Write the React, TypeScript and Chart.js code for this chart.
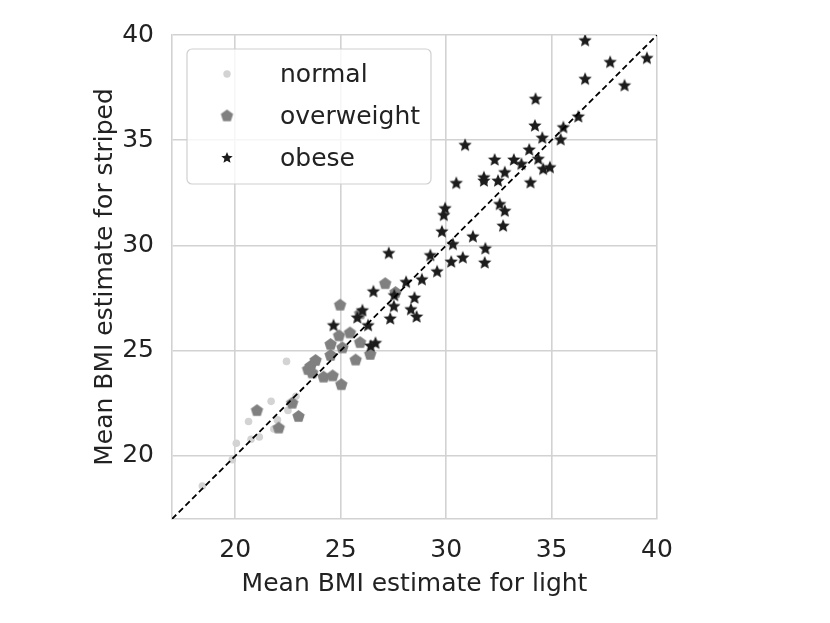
import { useEffect, useRef } from "react"
import { Chart, registerables } from "chart.js"

Chart.register(...registerables)

const normalX = [22.43, 21.7, 20.63, 20.05, 20.75, 21.14, 21.83, 22.0, 22.5, 22.88, 19.86, 18.44]
const normalY = [24.49, 22.59, 21.63, 20.6, 20.79, 20.9, 21.28, 21.71, 22.16, 22.83, 19.82, 18.57]

const overweightX = [
  21.03, 22.06, 23.0, 22.7, 23.45, 23.57, 23.81, 23.65, 24.19, 24.62, 25.03, 24.52,
  24.52, 25.08, 24.92, 25.44, 24.97, 25.92, 25.71, 26.4, 25.92, 27.11, 27.6,
]
const overweightY = [
  22.15, 21.32, 21.87, 22.5, 24.1, 24.25, 24.53, 23.94, 23.74, 23.8, 23.38, 25.29,
  24.77, 25.13, 25.7, 25.84, 27.16, 25.38, 24.55, 24.82, 26.75, 28.18, 27.76,
]

const obeseX = [
  27.28, 28.1, 28.85, 26.55, 24.66, 26.03, 25.79, 26.3, 26.65, 26.42, 27.52, 27.35,
  27.54, 28.5, 28.33, 28.6, 29.25, 29.57, 29.8, 29.89, 29.95, 30.24, 30.32, 30.48,
  30.79, 30.9, 31.27, 31.79, 31.79, 31.83, 31.86, 32.3, 32.46, 32.54, 32.7, 32.78,
  32.78, 33.21, 33.57, 33.94, 34.0, 34.21, 34.24, 34.37, 34.56, 34.6, 34.92, 35.43,
  35.56, 36.27, 36.59, 36.59, 37.78, 38.46, 39.52,
]
const obeseY = [
  29.62, 28.25, 28.37, 27.8, 26.19, 26.9, 26.56, 26.19, 25.35, 25.22, 27.1, 26.51,
  27.62, 27.5, 26.95, 26.6, 29.52, 28.75, 30.65, 31.43, 31.75, 29.21, 30.05, 32.95,
  29.41, 34.76, 30.41, 33.22, 33.06, 29.17, 29.84, 34.06, 33.06, 31.95, 30.92, 31.63,
  33.46, 34.06, 33.86, 34.54, 32.98, 35.68, 36.95, 34.1, 35.1, 33.62, 33.7, 35.02,
  35.6, 36.11, 37.9, 39.73, 38.7, 37.59, 38.89,
]

const identityLine = [17, 40]
const axisMin = 17
const axisMax = 40
const xTicks = [20, 25, 30, 35, 40]
const yTicks = [20, 25, 30, 35, 40]

const FONT = "'DejaVu Sans', Verdana, sans-serif"
const TEXT = "#222222"
const GRID = "#d2d2d2"

function toPoints(xs: number[], ys: number[]) {
  return xs.map((x, i) => ({ x, y: ys[i] }))
}

// small offscreen canvases used as point styles
function makeMarker(kind: "pentagon" | "star", color: string, r: number) {
  const size = Math.ceil(r * 2 + 4)
  const c = document.createElement("canvas")
  c.width = size
  c.height = size
  const ctx = c.getContext("2d")!
  const cx = size / 2
  const cy = size / 2
  ctx.fillStyle = color
  ctx.beginPath()
  if (kind === "pentagon") {
    for (let i = 0; i < 5; i++) {
      const a = -Math.PI / 2 + (i * 2 * Math.PI) / 5
      const px = cx + r * Math.cos(a)
      const py = cy + r * Math.sin(a)
      if (i === 0) ctx.moveTo(px, py)
      else ctx.lineTo(px, py)
    }
  } else {
    const inner = r * 0.45
    for (let i = 0; i < 10; i++) {
      const a = -Math.PI / 2 + (i * Math.PI) / 5
      const rr = i % 2 === 0 ? r : inner
      const px = cx + rr * Math.cos(a)
      const py = cy + rr * Math.sin(a)
      if (i === 0) ctx.moveTo(px, py)
      else ctx.lineTo(px, py)
    }
  }
  ctx.closePath()
  ctx.fill()
  return c
}

export default function App() {
  const chartRef = useRef<HTMLCanvasElement | null>(null)
  const chartInstance = useRef<Chart | null>(null)

  useEffect(() => {
    if (!chartRef.current) return
    if (chartInstance.current) chartInstance.current.destroy()

    const pentagon = makeMarker("pentagon", "#808080", 6.5)
    const star = makeMarker("star", "#1c1c1c", 7)
    const smallStar = makeMarker("star", "#1c1c1c", 6)

    const legendItems = [
      { label: "normal", style: "circle", color: "#d3d3d3" },
      { label: "overweight", style: pentagon, color: "#808080" },
      { label: "obese", style: smallStar, color: "#1c1c1c" },
    ]

    // legend box drawn inside the plot, matplotlib style
    const insideLegend = {
      id: "insideLegend",
      afterDatasetsDraw(chart: Chart) {
        const ctx = chart.ctx
        const bx = 187
        const by = 49
        const bw = 244
        const bh = 135
        ctx.save()
        ctx.beginPath()
        ctx.roundRect(bx, by, bw, bh, 5)
        ctx.fillStyle = "rgba(255,255,255,0.8)"
        ctx.fill()
        ctx.lineWidth = 1.2
        ctx.strokeStyle = "#d0d0d0"
        ctx.stroke()
        ctx.font = `25px ${FONT}`
        ctx.textBaseline = "middle"
        ctx.fillStyle = TEXT
        legendItems.forEach((item, i) => {
          const y = 74 + i * 42
          if (item.style === "circle") {
            ctx.beginPath()
            ctx.arc(227, y, 3.7, 0, Math.PI * 2)
            ctx.fillStyle = item.color
            ctx.fill()
          } else {
            const img = item.style as HTMLCanvasElement
            ctx.drawImage(img, 227 - img.width / 2, y - img.height / 2)
          }
          ctx.fillStyle = TEXT
          ctx.fillText(item.label, 280, y + 1)
        })
        ctx.restore()
      },
    }

    chartInstance.current = new Chart(chartRef.current, {
      type: "scatter",
      data: {
        datasets: [
          {
            type: "line",
            label: "identity",
            data: toPoints(identityLine, identityLine),
            borderColor: "#000",
            borderWidth: 1.8,
            borderDash: [6, 3.5],
            pointRadius: 0,
            fill: false,
            order: 0,
          },
          {
            label: "obese",
            data: toPoints(obeseX, obeseY),
            pointStyle: star,
            pointRadius: 7,
            backgroundColor: "#1c1c1c",
            order: 1,
          },
          {
            label: "overweight",
            data: toPoints(overweightX, overweightY),
            pointStyle: pentagon,
            pointRadius: 6,
            backgroundColor: "#808080",
            order: 2,
          },
          {
            label: "normal",
            data: toPoints(normalX, normalY),
            pointStyle: "circle",
            pointRadius: 3.8,
            borderWidth: 0,
            backgroundColor: "#d3d3d3",
            order: 3,
          },
        ],
      },
      options: {
        responsive: false,
        animation: false,
        events: [],
        layout: { padding: { top: 35, right: 173, bottom: 0, left: 0 } },
        plugins: {
          legend: { display: false },
          tooltip: { enabled: false },
        },
        scales: {
          x: {
            type: "linear",
            min: axisMin,
            max: axisMax,
            afterBuildTicks: (scale) => {
              scale.ticks = xTicks.map((value) => ({ value }))
            },
            afterFit: (scale) => {
              scale.height = 104
            },
            grid: { color: GRID, lineWidth: 1.6, drawTicks: false },
            border: { display: true, color: GRID, width: 1.6 },
            ticks: { color: TEXT, font: { family: FONT, size: 25 }, padding: 16 },
            title: {
              display: true,
              text: "Mean BMI estimate for light",
              color: TEXT,
              font: { family: FONT, size: 25 },
              padding: { top: 0, bottom: 24 },
            },
          },
          y: {
            type: "linear",
            min: axisMin,
            max: axisMax,
            afterBuildTicks: (scale) => {
              scale.ticks = yTicks.map((value) => ({ value }))
            },
            afterFit: (scale) => {
              scale.width = 172
            },
            grid: { color: GRID, lineWidth: 1.6, drawTicks: false },
            border: { display: true, color: GRID, width: 1.6 },
            ticks: { color: TEXT, font: { family: FONT, size: 25 }, padding: 18 },
            title: {
              display: true,
              text: "Mean BMI estimate for striped",
              color: TEXT,
              font: { family: FONT, size: 25 },
              padding: { top: 90, bottom: 0 },
            },
          },
        },
      },
      plugins: [insideLegend],
    })

    return () => {
      if (chartInstance.current) {
        chartInstance.current.destroy()
        chartInstance.current = null
      }
    }
  }, [])

  return (
    <div style={{ position: "absolute", left: 0, top: 0, width: 830, height: 623, background: "#fff" }}>
      <canvas ref={chartRef} width={830} height={623} />
    </div>
  )
}
